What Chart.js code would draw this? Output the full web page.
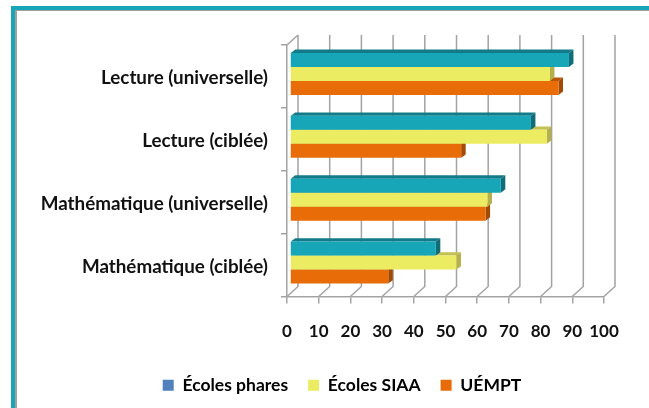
<!DOCTYPE html>
<html>
<head>
<meta charset="utf-8">
<script src="https://cdn.jsdelivr.net/npm/chart.js@4"></script>
<style>
  html, body { margin: 0; padding: 0; background: #fff; overflow: hidden; }
  #page { position: relative; width: 649px; height: 408px; }
  #frame { position: absolute; left: 11px; top: 6px; right: 0; bottom: 0; border-left: 4px solid #17a5b8; border-top: 4px solid #17a5b8; }
  #frame div { position: absolute; left: 0; top: 0; right: 0; bottom: 0; border-left: 2px solid #a0a0a0; border-top: 1px solid #a0a0a0; }
  #chart { position: absolute; left: 0; top: 0; }
</style>
</head>
<body>
<div id="page">
  <div id="frame"><div></div></div>
  <canvas id="chart" width="649" height="408"></canvas>
</div>
<script>
const categories = ["Lecture (universelle)", "Lecture (ciblée)", "Mathématique (universelle)", "Mathématique (ciblée)"];
const ecolesPhares = [88, 76, 66.5, 46];
const ecolesSiaa = [82, 81, 62.3, 52.5];
const uempt = [84.7, 54, 61.7, 31];
const seriesNames = ["Écoles phares", "Écoles SIAA", "UÉMPT"];
const xTicks = [0, 10, 20, 30, 40, 50, 60, 70, 80, 90, 100];

const barColors = ["#17a5b8", "#ecec62", "#e86c07"];
const topColors = ["#127a88", "#c4c052", "#b95504"];
const sideColors = ["#0f6c78", "#b5b04a", "#a34a04"];
const legendColors = ["#4f81bd", "#ecec62", "#e86c07"];

const gridColor = "#a3a3a3";
const wallX = 11, wallY = 10;    // decalage du mur du fond
const barShiftX = 3, barShiftY = -2.5;
const depthX = 4.5, depthY = 3.4;
const legendShift = 40;

// murs et grille en fausse 3D
const wallPlugin = {
    id: "wall",
    afterLayout(chart) {
        // la legende n'est pas centree sur le canvas dans l'original
        chart.legend.left += legendShift;
        chart.legend.right += legendShift;
    },
    beforeDatasetsDraw(chart) {
        const { ctx, scales, chartArea } = chart;
        ctx.save();
        ctx.strokeStyle = gridColor;
        ctx.lineWidth = 1.5;
        xTicks.forEach(v => {
            const x = scales.x.getPixelForValue(v);
            ctx.beginPath();
            ctx.moveTo(x, chartArea.bottom);
            ctx.lineTo(x + wallX, chartArea.bottom - wallY);
            ctx.lineTo(x + wallX, chartArea.top - wallY);
            ctx.stroke();
        });
        ctx.beginPath();
        ctx.moveTo(chartArea.left, chartArea.top);
        ctx.lineTo(chartArea.left + wallX, chartArea.top - wallY);
        ctx.stroke();
        ctx.restore();

        // faces arrieres des barres, de bas en haut
        ctx.save();
        ctx.translate(barShiftX, barShiftY);
        for (let d = chart.data.datasets.length - 1; d >= 0; d--) {
            chart.getDatasetMeta(d).data.forEach(bar => {
                const p = bar.getProps(["x", "y", "base", "height"], true);
                const top = p.y - p.height / 2, bottom = p.y + p.height / 2;
                ctx.fillStyle = topColors[d];
                ctx.beginPath();
                ctx.moveTo(p.base, top);
                ctx.lineTo(p.base + depthX, top - depthY);
                ctx.lineTo(p.x + depthX, top - depthY);
                ctx.lineTo(p.x, top);
                ctx.closePath();
                ctx.fill();
                ctx.fillStyle = sideColors[d];
                ctx.beginPath();
                ctx.moveTo(p.x, top);
                ctx.lineTo(p.x + depthX, top - depthY);
                ctx.lineTo(p.x + depthX, bottom - depthY);
                ctx.lineTo(p.x, bottom);
                ctx.closePath();
                ctx.fill();
            });
        }
        // la transformation reste active pour les faces avant
    },
    afterDatasetsDraw(chart) {
        chart.ctx.restore();
    }
};

const seriesValues = [ecolesPhares, ecolesSiaa, uempt];

new Chart(document.getElementById("chart"), {
    type: "bar",
    plugins: [wallPlugin],
    data: {
        labels: categories,
        datasets: seriesNames.map((name, i) => ({
            label: name,
            data: seriesValues[i],
            backgroundColor: barColors[i],
            categoryPercentage: 0.667,
            barPercentage: 1
        }))
    },
    options: {
        indexAxis: "y",
        responsive: false,
        animation: false,
        layout: { padding: { left: 0, right: 45, top: 45, bottom: 4 } },
        scales: {
            x: {
                min: 0,
                max: 100,
                ticks: {
                    stepSize: 10,
                    autoSkip: false,
                    color: "#111",
                    padding: 18,
                    maxRotation: 0,
                    font: { family: "Lato", size: 17, weight: "bold" }
                },
                grid: { drawOnChartArea: false, color: gridColor, tickLength: 7, lineWidth: 1.5 },
                border: { color: gridColor, width: 1.5 },
                afterFit(scale) { scale.height = 60; }
            },
            y: {
                ticks: {
                    color: "#111",
                    padding: 13,
                    labelOffset: 2,
                    font: { family: "Lato", size: 18.8, weight: "bold" }
                },
                grid: { drawOnChartArea: false, color: gridColor, tickLength: 6, lineWidth: 1.5 },
                border: { color: gridColor, width: 1.5 },
                afterFit(scale) { scale.width = 287; }
            }
        },
        plugins: {
            tooltip: { enabled: false },
            legend: {
                position: "bottom",
                labels: {
                    color: "#111",
                    boxWidth: 11,
                    boxHeight: 11,
                    padding: 20,
                    font: { family: "Lato", size: 17.5, weight: "bold" },
                    generateLabels() {
                        return seriesNames.map((name, i) => ({
                            text: name,
                            fillStyle: legendColors[i],
                            strokeStyle: legendColors[i],
                            lineWidth: 0,
                            datasetIndex: i
                        }));
                    }
                }
            }
        }
    }
});
</script>
</body>
</html>
